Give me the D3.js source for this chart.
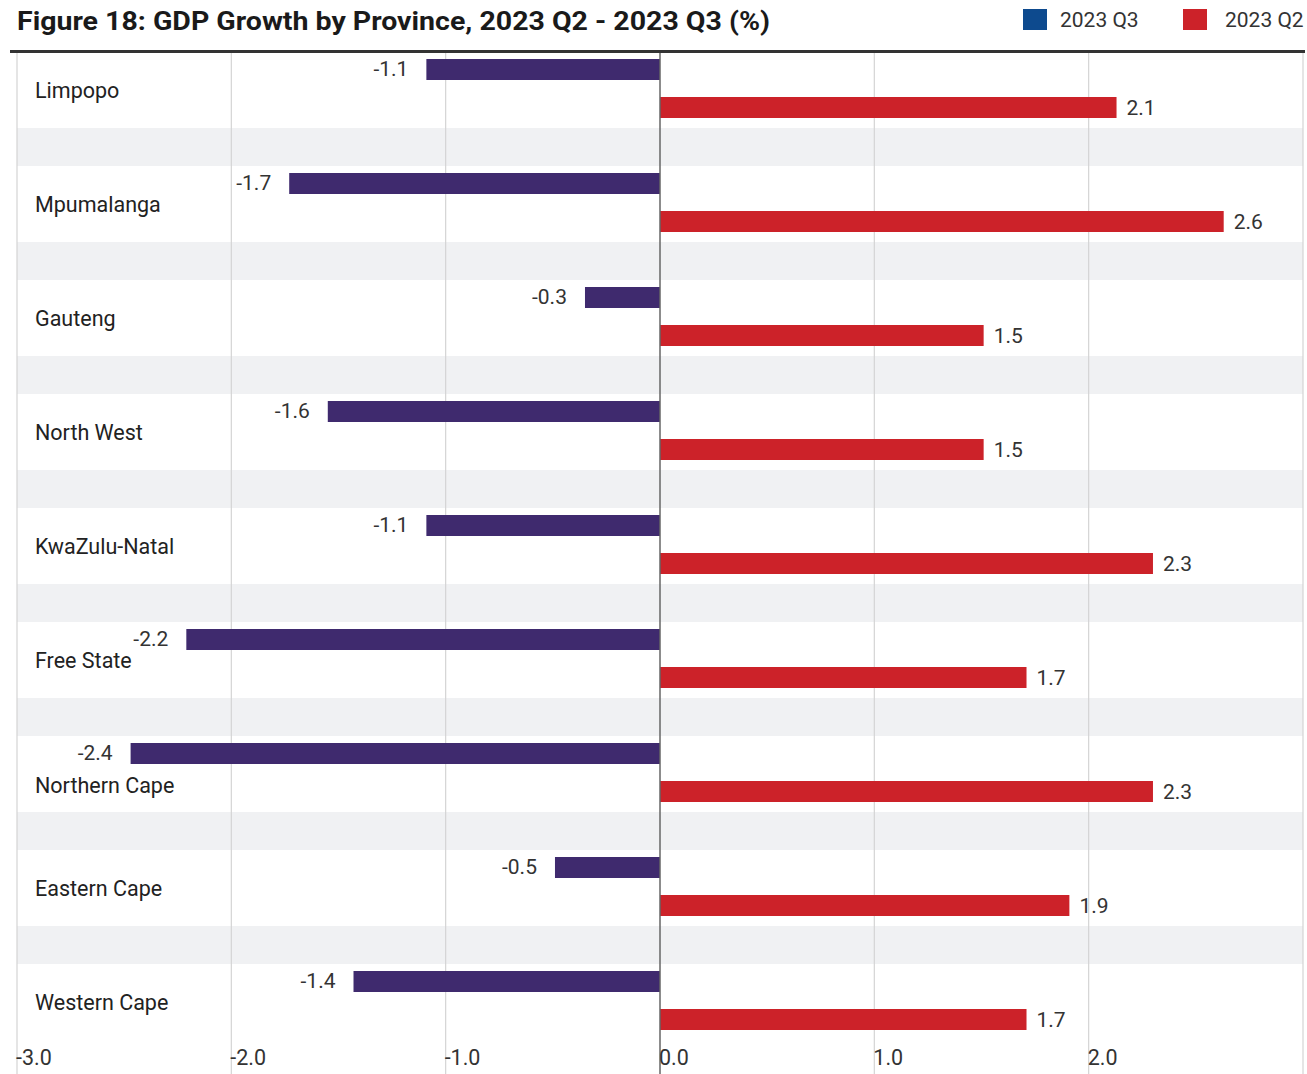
<!DOCTYPE html>
<html><head><meta charset="utf-8">
<script src="https://cdn.jsdelivr.net/npm/d3@7"></script>
<style>body{margin:0;background:#fff;} text{font-family:Roboto,"Liberation Sans",sans-serif;}</style>
</head><body><svg id="c" width="1307" height="1074"></svg>
<script>
const provinces = ["Limpopo","Mpumalanga","Gauteng","North West","KwaZulu-Natal","Free State","Northern Cape","Eastern Cape","Western Cape"];
const q3Values = [-1.09,-1.73,-0.35,-1.55,-1.09,-2.21,-2.47,-0.49,-1.43];
const q3Labels = ["-1.1","-1.7","-0.3","-1.6","-1.1","-2.2","-2.4","-0.5","-1.4"];
const q2Values = [2.13,2.63,1.51,1.51,2.30,1.71,2.30,1.91,1.71];
const q2Labels = ["2.1","2.6","1.5","1.5","2.3","1.7","2.3","1.9","1.7"];
const tickValues = [-3,-2,-1,0,1,2,3];
const seriesNames = ["2023 Q3","2023 Q2"];

const svg = d3.select("#c");
const x = d3.scaleLinear().domain([-3,3]).range([17,1303]);
const y = d3.scaleBand().domain(provinces).range([52,1078]).padding(0);
const bw = y.bandwidth();

// grey separator bands
svg.selectAll("rect.sep").data(provinces.slice(0,-1)).join("rect")
  .attr("x",17).attr("width",1286)
  .attr("y",d=>y(d)+bw*76/114).attr("height",bw*38/114)
  .attr("fill","#f0f1f3");

// gridlines
svg.selectAll("line.grid").data(tickValues.filter(d=>d!==0)).join("line")
  .attr("x1",d=>x(d)).attr("x2",d=>x(d)).attr("y1",52).attr("y2",1074)
  .attr("stroke","#d4d4d4").attr("stroke-width",1.2);

// bars
svg.selectAll("rect.q3").data(provinces).join("rect")
  .attr("x",(d,i)=>x(Math.min(0,q3Values[i]))).attr("width",(d,i)=>Math.abs(x(q3Values[i])-x(0)))
  .attr("y",d=>y(d)+7).attr("height",21).attr("fill","#3f2a6e");
svg.selectAll("rect.q2").data(provinces).join("rect")
  .attr("x",(d,i)=>x(Math.min(0,q2Values[i]))).attr("width",(d,i)=>Math.abs(x(q2Values[i])-x(0)))
  .attr("y",d=>y(d)+45).attr("height",21).attr("fill","#cc2229");

// zero line
svg.append("line").attr("x1",x(0)).attr("x2",x(0)).attr("y1",52).attr("y2",1074)
  .attr("stroke","#666").attr("stroke-width",1.5);

// value labels
svg.selectAll("text.l3").data(provinces).join("text")
  .attr("x",(d,i)=>x(q3Values[i])-18).attr("y",d=>y(d)+17)
  .attr("dy","0.35em").attr("text-anchor","end")
  .attr("font-size",21).attr("fill","#333").text((d,i)=>q3Labels[i]);
svg.selectAll("text.l2").data(provinces).join("text")
  .attr("x",(d,i)=>x(q2Values[i])+10).attr("y",d=>y(d)+55.5)
  .attr("dy","0.35em").attr("text-anchor","start")
  .attr("font-size",21).attr("fill","#333").text((d,i)=>q2Labels[i]);

// category labels (pushed down when a long negative value label reaches into the label column)
svg.selectAll("text.cat").data(provinces).join("text")
  .attr("x",35).attr("y",(d,i)=>y(d)+38+(x(q3Values[i])<x(-2.35)?11:0)).attr("dy","0.35em")
  .attr("font-size",21.5).attr("fill","#222").text(d=>d);

// x axis labels
svg.selectAll("text.tick").data(tickValues.filter(d=>d<3)).join("text")
  .attr("x",d=>x(d)-1).attr("y",1057).attr("dy","0.35em")
  .attr("font-size",21.5).attr("fill","#333").attr("text-anchor","start")
  .text(d=>d3.format(".1f")(d).replace("−","-"));

// top rule
svg.append("line").attr("x1",10).attr("x2",1305).attr("y1",51.5).attr("y2",51.5)
  .attr("stroke","#333").attr("stroke-width",3);

// title
svg.append("text").attr("x",17).attr("y",30)
  .attr("font-size",26).attr("font-weight","bold").attr("fill","#1a1a1a")
  .attr("textLength",753).attr("lengthAdjust","spacingAndGlyphs")
  .text("Figure 18: GDP Growth by Province, 2023 Q2 - 2023 Q3 (%)");

// legend
const legColors = ["#0d4a8e","#cc2229"];
const legX = [1023,1183];
seriesNames.forEach((n,i)=>{
  svg.append("rect").attr("x",legX[i]).attr("y",9).attr("width",24).attr("height",21).attr("fill",legColors[i]);
  svg.append("text").attr("x",legX[i]+37+(i?5:0)).attr("y",20).attr("dy","0.35em")
    .attr("font-size",21).attr("fill","#333").text(n);
});
</script></body></html>
